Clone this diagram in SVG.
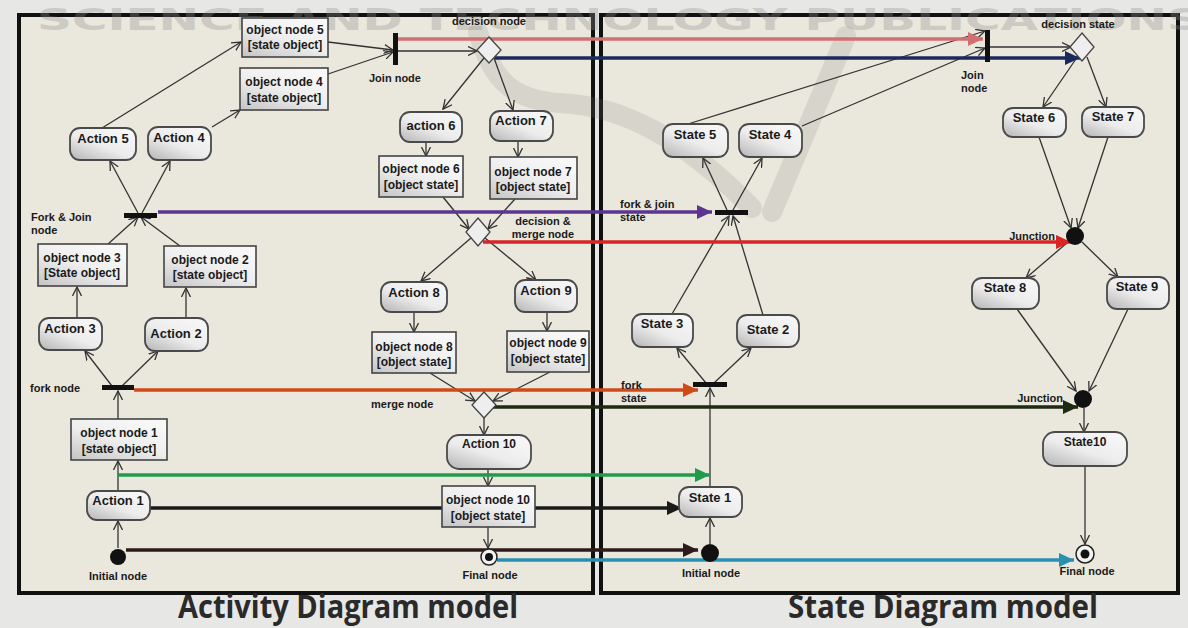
<svg xmlns="http://www.w3.org/2000/svg" width="1188" height="628" viewBox="0 0 1188 628">
<defs>
<style>
.frame{fill:#eae7dd;stroke:#111;stroke-width:4}
.act{stroke:#4a4a4a;stroke-width:1.8;fill:url(#gAct)}
.obj{stroke:#444;stroke-width:1.6;fill:url(#gObj)}
.t{font-family:"Liberation Sans",Arial,sans-serif;font-weight:bold;fill:#1a1a1a;text-anchor:middle}
.nt{font-size:13px}
.ot{font-size:12px}
.lb{font-size:11px}
.lbl{font-family:"Liberation Sans",Arial,sans-serif;font-weight:bold;fill:#1a1a1a;font-size:11px}
.c{fill:none;stroke:#333;stroke-width:1.3;marker-end:url(#open)}
.bar{fill:#111}
.title{font-family:"Open Sans","Liberation Sans",sans-serif;font-weight:700;font-size:32px;fill:#2a2a2a}
.col{fill:none;stroke-width:3.5}
</style>
<linearGradient id="gAct" x1="0" y1="1" x2="0.8" y2="0">
<stop offset="0" stop-color="#b4b4b4"/><stop offset="0.5" stop-color="#ececec"/><stop offset="1" stop-color="#f7f7f7"/>
</linearGradient>
<linearGradient id="gObj" x1="0" y1="1" x2="0.7" y2="0">
<stop offset="0" stop-color="#c4c4c4"/><stop offset="0.55" stop-color="#eeeeee"/><stop offset="1" stop-color="#f8f8f8"/>
</linearGradient>
<marker id="open" markerWidth="10" markerHeight="10" refX="9" refY="5" orient="auto" markerUnits="userSpaceOnUse">
<path d="M0,0.5 L9,5 L0,9.5" fill="none" stroke="#333" stroke-width="1.3"/>
</marker>
<marker id="mPink" markerWidth="16" markerHeight="14" refX="15" refY="7" orient="auto" markerUnits="userSpaceOnUse"><path d="M0,0 L15,7 L0,14 z" fill="#d07070"/></marker>
<marker id="mNavy" markerWidth="16" markerHeight="14" refX="15" refY="7" orient="auto" markerUnits="userSpaceOnUse"><path d="M0,0 L15,7 L0,14 z" fill="#1b2a5c"/></marker>
<marker id="mPurple" markerWidth="16" markerHeight="14" refX="15" refY="7" orient="auto" markerUnits="userSpaceOnUse"><path d="M0,0 L15,7 L0,14 z" fill="#5b3590"/></marker>
<marker id="mRed" markerWidth="16" markerHeight="14" refX="15" refY="7" orient="auto" markerUnits="userSpaceOnUse"><path d="M0,0 L15,7 L0,14 z" fill="#d92525"/></marker>
<marker id="mOrange" markerWidth="16" markerHeight="14" refX="15" refY="7" orient="auto" markerUnits="userSpaceOnUse"><path d="M0,0 L15,7 L0,14 z" fill="#d04a18"/></marker>
<marker id="mDkGreen" markerWidth="16" markerHeight="14" refX="15" refY="7" orient="auto" markerUnits="userSpaceOnUse"><path d="M0,0 L15,7 L0,14 z" fill="#1e2a12"/></marker>
<marker id="mGreen" markerWidth="16" markerHeight="14" refX="15" refY="7" orient="auto" markerUnits="userSpaceOnUse"><path d="M0,0 L15,7 L0,14 z" fill="#1f9b4a"/></marker>
<marker id="mBlack" markerWidth="16" markerHeight="14" refX="15" refY="7" orient="auto" markerUnits="userSpaceOnUse"><path d="M0,0 L15,7 L0,14 z" fill="#1a1a1a"/></marker>
<marker id="mDkRed" markerWidth="16" markerHeight="14" refX="15" refY="7" orient="auto" markerUnits="userSpaceOnUse"><path d="M0,0 L15,7 L0,14 z" fill="#2e1a1a"/></marker>
<marker id="mBlue" markerWidth="16" markerHeight="14" refX="15" refY="7" orient="auto" markerUnits="userSpaceOnUse"><path d="M0,0 L15,7 L0,14 z" fill="#2a90b0"/></marker>
</defs>

<rect x="0" y="0" width="1188" height="628" fill="#e7e7e6"/>
<rect class="frame" x="19" y="15" width="574" height="578"/>
<rect class="frame" x="601" y="15" width="577" height="578"/>

<!-- watermark (behind content) -->
<text x="37" y="30" font-family="DejaVu Sans,sans-serif" font-weight="bold" font-size="30" fill="#8f8f8f" opacity="0.32" textLength="1165" lengthAdjust="spacingAndGlyphs">SCIENCE AND TECHNOLOGY PUBLICATIONS</text>
<g opacity="0.17" fill="none" stroke="#7a7a7a" stroke-width="20" stroke-linecap="round">
<path d="M478,32 C492,80 512,100 560,103 C625,106 685,140 752,208"/>
<path d="M846,36 L772,212"/>
</g>

<!-- connectors -->
<g id="connectors">
<path class="c" d="M118,548 L118,521"/>
<path class="c" d="M118,491 L118,461"/>
<path class="c" d="M118,419 L118,391"/>
<path class="c" d="M112,386 L85,351"/>
<path class="c" d="M122,386 L158,351"/>
<path class="c" d="M77,318 L77,287"/>
<path class="c" d="M186,318 L186,288"/>
<path class="c" d="M108,244 L138,217"/>
<path class="c" d="M180,246 L141,217"/>
<path class="c" d="M138,213 L110,161"/>
<path class="c" d="M142,213 L170,161"/>
<path class="c" d="M102,128 L241,42"/>
<path class="c" d="M212,127 L240,110"/>
<path class="c" d="M328,42 L393,50"/>
<path class="c" d="M328,74 L393,52"/>
<path class="c" d="M397,51 L477,51"/>
<path class="c" d="M484,58 L443,109"/>
<path class="c" d="M494,58 L513,110"/>
<path class="c" d="M426,142 L426,156"/>
<path class="c" d="M518,141 L518,157"/>
<path class="c" d="M443,197 L469,229"/>
<path class="c" d="M515,199 L488,229"/>
<path class="c" d="M471,238 L421,281"/>
<path class="c" d="M485,238 L536,280"/>
<path class="c" d="M414,312 L414,332"/>
<path class="c" d="M547,312 L547,331"/>
<path class="c" d="M430,373 L475,401"/>
<path class="c" d="M550,372 L493,401"/>
<path class="c" d="M484,418 L484,435"/>
<path class="c" d="M488,469 L488,486"/>
<path class="c" d="M488,527 L488,548"/>

<path class="c" d="M710,544 L710,518"/>
<path class="c" d="M710,487 L710,388"/>
<path class="c" d="M706,383 L677,348"/>
<path class="c" d="M714,383 L751,348"/>
<path class="c" d="M672,314 L729,216"/>
<path class="c" d="M763,315 L733,216"/>
<path class="c" d="M727,210 L703,158"/>
<path class="c" d="M733,210 L762,158"/>
<path class="c" d="M688,124 L985,31"/>
<path class="c" d="M802,126 L985,48"/>
<path class="c" d="M990,47 L1071,47"/>
<path class="c" d="M1078,56 L1043,107"/>
<path class="c" d="M1087,57 L1106,107"/>
<path class="c" d="M1039,137 L1071,228"/>
<path class="c" d="M1108,137 L1078,228"/>
<path class="c" d="M1068,242 L1026,278"/>
<path class="c" d="M1082,242 L1118,277"/>
<path class="c" d="M1017,309 L1076,391"/>
<path class="c" d="M1128,309 L1089,391"/>
<path class="c" d="M1084,408 L1084,432"/>
<path class="c" d="M1085,466 L1085,544"/>

<!-- mapping arrows -->
<path class="col" d="M398,39 L983,39" stroke="#d07070" stroke-width="3" marker-end="url(#mPink)"/>
<path class="col" d="M495,58 L1080,58" stroke="#1b2a5c" marker-end="url(#mNavy)"/>
<path class="col" d="M158,212 L712,212" stroke="#5b3590" stroke-width="3" marker-end="url(#mPurple)"/>
<path class="col" d="M483,242 L1071,242" stroke="#d92525" marker-end="url(#mRed)"/>
<path class="col" d="M134,390 L698,390" stroke="#d04a18" stroke-width="4" marker-end="url(#mOrange)"/>
<path class="col" d="M490,407 L1078,407" stroke="#1e2a12" marker-end="url(#mDkGreen)"/>
<path class="col" d="M118,475 L710,475" stroke="#1f9b4a" marker-end="url(#mGreen)"/>
<path class="col" d="M148,508 L682,508" stroke="#1a1a1a" marker-end="url(#mBlack)"/>
<path class="col" d="M126,550 L698,550" stroke="#2e1a1a" marker-end="url(#mDkRed)"/>
<path class="col" d="M497,560 L1074,560" stroke="#2a90b0" marker-end="url(#mBlue)"/>
</g>

<!-- Activity diagram nodes -->
<g id="objNode5"><rect class="obj" x="242" y="18" width="86" height="39"/><text class="t ot" x="285" y="34">object node 5</text><text class="t ot" x="285" y="49">[state object]</text></g>
<g id="objNode4"><rect class="obj" x="240" y="68" width="88" height="42"/><text class="t ot" x="284" y="86">object node 4</text><text class="t ot" x="284" y="102">[state object]</text></g>
<g id="action5"><rect class="act" x="70" y="128" width="66" height="32" rx="10"/><text class="t nt" x="103" y="143">Action 5</text></g>
<g id="action4"><rect class="act" x="148" y="127" width="63" height="33" rx="10"/><text class="t nt" x="179" y="142">Action 4</text></g>
<g id="forkJoinNode"><rect class="bar" x="124" y="213" width="33" height="5"/><text class="lbl" x="31" y="221">Fork &amp; Join</text><text class="lbl" x="31" y="234">node</text></g>
<g id="objNode3"><rect class="obj" x="38" y="244" width="89" height="42"/><text class="t ot" x="82" y="262">object node 3</text><text class="t ot" x="82" y="277">[State object]</text></g>
<g id="objNode2"><rect class="obj" x="164" y="246" width="92" height="41"/><text class="t ot" x="210" y="264">object node 2</text><text class="t ot" x="210" y="279">[state object]</text></g>
<g id="action3"><rect class="act" x="39" y="318" width="63" height="32" rx="10"/><text class="t nt" x="70" y="333">Action 3</text></g>
<g id="action2"><rect class="act" x="145" y="318" width="63" height="33" rx="10"/><text class="t nt" x="176" y="338">Action 2</text></g>
<g id="forkNode"><rect class="bar" x="102" y="385" width="32" height="5"/><text class="lbl" x="30" y="392">fork node</text></g>
<g id="objNode1"><rect class="obj" x="71" y="419" width="96" height="41"/><text class="t ot" x="119" y="437">object node 1</text><text class="t ot" x="119" y="453">[state object]</text></g>
<g id="action1"><rect class="act" x="87" y="491" width="63" height="29" rx="10"/><text class="t nt" x="118" y="505">Action 1</text></g>
<g id="initialNode"><circle cx="118" cy="557" r="8" fill="#111"/><text class="t lb" x="118" y="580">Initial node</text></g>
<g id="joinNode"><rect class="bar" x="393" y="33" width="5" height="32"/><text class="lbl" x="369" y="82">Join node</text></g>
<g id="decisionNode"><path d="M489,37 L501,50 L489,63 L477,50 Z" fill="#eeeeee" stroke="#444" stroke-width="1.3"/><text class="t lb" x="489" y="25">decision node</text></g>
<g id="action6"><rect class="act" x="400" y="112" width="62" height="30" rx="10"/><text class="t nt" x="431" y="130">action 6</text></g>
<g id="action7"><rect class="act" x="490" y="111" width="63" height="30" rx="10"/><text class="t nt" x="521" y="125">Action 7</text></g>
<g id="objNode6"><rect class="obj" x="379" y="156" width="84" height="41"/><text class="t ot" x="421" y="173">object node 6</text><text class="t ot" x="421" y="189">[object state]</text></g>
<g id="objNode7"><rect class="obj" x="490" y="157" width="87" height="42"/><text class="t ot" x="533" y="176">object node 7</text><text class="t ot" x="533" y="191">[object state]</text></g>
<g id="decisionMergeNode"><path d="M478,218 L490,232 L478,246 L466,232 Z" fill="#eeeeee" stroke="#444" stroke-width="1.3"/><text class="t lb" x="543" y="225">decision &amp;</text><text class="t lb" x="543" y="238">merge node</text></g>
<g id="action8"><rect class="act" x="381" y="282" width="66" height="30" rx="10"/><text class="t nt" x="414" y="297">Action 8</text></g>
<g id="action9"><rect class="act" x="515" y="280" width="62" height="32" rx="10"/><text class="t nt" x="546" y="295">Action 9</text></g>
<g id="objNode8"><rect class="obj" x="372" y="332" width="84" height="41"/><text class="t ot" x="414" y="351">object node 8</text><text class="t ot" x="414" y="366">[object state]</text></g>
<g id="objNode9"><rect class="obj" x="507" y="331" width="82" height="41"/><text class="t ot" x="548" y="347">object node 9</text><text class="t ot" x="548" y="363">[object state]</text></g>
<g id="mergeNode"><path d="M484,392 L496,405 L484,418 L472,405 Z" fill="#eeeeee" stroke="#444" stroke-width="1.3"/><text class="lbl" x="371" y="408">merge node</text></g>
<g id="action10"><rect class="act" x="447" y="435" width="84" height="34" rx="12"/><text class="t ot" x="489" y="448">Action 10</text></g>
<g id="objNode10"><rect class="obj" x="442" y="486" width="93" height="41"/><text class="t ot" x="488" y="504">object node 10</text><text class="t ot" x="488" y="520">[object state]</text></g>
<g id="finalNode"><circle cx="489" cy="557" r="8" fill="#f2f2f2" stroke="#222" stroke-width="1.5"/><circle cx="489" cy="557" r="4" fill="#111"/><text class="t lb" x="490" y="579">Final node</text></g>

<!-- State diagram nodes -->
<g id="state5"><rect class="act" x="663" y="124" width="65" height="33" rx="10"/><text class="t nt" x="695" y="139">State 5</text></g>
<g id="state4"><rect class="act" x="739" y="124" width="63" height="33" rx="10"/><text class="t nt" x="770" y="139">State 4</text></g>
<g id="forkJoinState"><rect class="bar" x="715" y="210" width="33" height="5"/><text class="lbl" x="620" y="208">fork &amp; join</text><text class="lbl" x="620" y="221">state</text></g>
<g id="state3"><rect class="act" x="632" y="314" width="61" height="33" rx="10"/><text class="t nt" x="662" y="328">State 3</text></g>
<g id="state2"><rect class="act" x="737" y="315" width="62" height="32" rx="10"/><text class="t nt" x="768" y="334">State 2</text></g>
<g id="forkState"><rect class="bar" x="693" y="382" width="34" height="5"/><text class="lbl" x="621" y="389">fork</text><text class="lbl" x="621" y="402">state</text></g>
<g id="state1"><rect class="act" x="679" y="487" width="63" height="30" rx="10"/><text class="t nt" x="710" y="502">State 1</text></g>
<g id="initialState"><circle cx="710" cy="553" r="9" fill="#111"/><text class="t lb" x="711" y="577">Initial node</text></g>
<g id="joinState"><rect class="bar" x="985" y="30" width="5" height="32"/><text class="lbl" x="961" y="79">Join</text><text class="lbl" x="961" y="92">node</text></g>
<g id="decisionState"><path d="M1082,33 L1094,47 L1082,61 L1070,47 Z" fill="#eeeeee" stroke="#444" stroke-width="1.3"/><text class="t lb" x="1078" y="28">decision state</text></g>
<g id="state6"><rect class="act" x="1003" y="108" width="63" height="29" rx="10"/><text class="t nt" x="1034" y="122">State 6</text></g>
<g id="state7"><rect class="act" x="1082" y="107" width="62" height="30" rx="10"/><text class="t nt" x="1113" y="121">State 7</text></g>
<g id="junction1"><circle cx="1075" cy="236" r="9" fill="#111"/><text class="lbl" x="1055" y="240" text-anchor="end">Junction</text></g>
<g id="state8"><rect class="act" x="972" y="278" width="67" height="31" rx="10"/><text class="t nt" x="1005" y="292">State 8</text></g>
<g id="state9"><rect class="act" x="1107" y="277" width="62" height="32" rx="10"/><text class="t nt" x="1137" y="291">State 9</text></g>
<g id="junction2"><circle cx="1083" cy="399" r="9" fill="#111"/><text class="lbl" x="1063" y="402" text-anchor="end">Junction</text></g>
<g id="state10"><rect class="act" x="1043" y="432" width="84" height="34" rx="12"/><text class="t ot" x="1085" y="446">State10</text></g>
<g id="finalState"><circle cx="1085" cy="554" r="9" fill="#f2f2f2" stroke="#222" stroke-width="1.5"/><circle cx="1085" cy="554" r="4.5" fill="#111"/><text class="t lb" x="1087" y="575">Final node</text></g>

<!-- titles -->
<text class="title" x="178" y="618" textLength="340" lengthAdjust="spacingAndGlyphs">Activity Diagram model</text>
<text class="title" x="788" y="618" textLength="310" lengthAdjust="spacingAndGlyphs">State Diagram model</text>
</svg>
